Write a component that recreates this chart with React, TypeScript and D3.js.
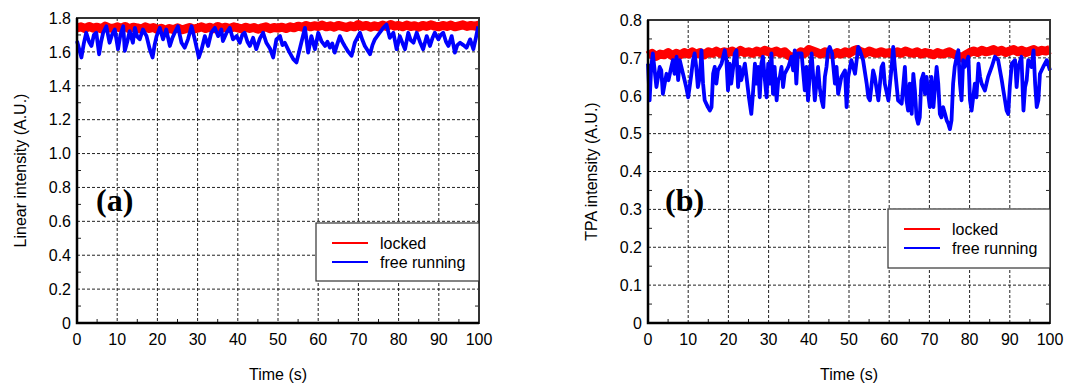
import { useRef, useEffect } from 'react'
import * as d3 from 'd3'

type Pt = [number, number]

const timeTicks = [0, 10, 20, 30, 40, 50, 60, 70, 80, 90, 100]
const linearTicks = [0, 0.2, 0.4, 0.6, 0.8, 1.0, 1.2, 1.4, 1.6, 1.8]
const tpaTicks = [0, 0.1, 0.2, 0.3, 0.4, 0.5, 0.6, 0.7, 0.8]
const legendLabels = ['locked', 'free running']

// locked, linear intensity, one reading per second (0..100 s)
const lockedLinear = [
  1.742, 1.748, 1.738, 1.750, 1.740, 1.746, 1.736, 1.752, 1.742, 1.738, 1.748,
  1.740, 1.750, 1.736, 1.746, 1.742, 1.734, 1.748, 1.738, 1.744, 1.732,
  1.740, 1.728, 1.738, 1.732, 1.742, 1.730, 1.736, 1.744, 1.734, 1.740,
  1.748, 1.738, 1.746, 1.736, 1.750, 1.740, 1.746, 1.738, 1.748, 1.742,
  1.736, 1.746, 1.738, 1.744, 1.734, 1.742, 1.748, 1.736, 1.744, 1.740,
  1.746, 1.738, 1.748, 1.742, 1.752, 1.746, 1.756, 1.748, 1.754, 1.750,
  1.758, 1.748, 1.754, 1.746, 1.756, 1.750, 1.744, 1.754, 1.748, 1.762,
  1.750, 1.756, 1.746, 1.754, 1.748, 1.758, 1.750, 1.762, 1.752, 1.756,
  1.748, 1.758, 1.750, 1.754, 1.746, 1.756, 1.750, 1.760, 1.752, 1.748,
  1.756, 1.750, 1.758, 1.748, 1.754, 1.760, 1.750, 1.756, 1.752, 1.758,
]

// free running, linear intensity [time s, value]
const freeLinear: Pt[] = [
  [0, 1.664], [1.1, 1.567], [1.7, 1.65], [2.3, 1.713], [3.0, 1.66], [3.6, 1.635], [4.2, 1.70],
  [4.8, 1.713], [5.5, 1.586], [6.0, 1.66], [6.5, 1.713], [7.3, 1.751], [8.1, 1.654], [8.7, 1.70],
  [9.4, 1.732], [10.2, 1.616], [10.8, 1.70], [11.5, 1.751], [11.9, 1.606], [12.5, 1.66], [13.1, 1.722],
  [13.9, 1.654], [14.4, 1.742], [15.0, 1.69], [15.6, 1.674], [16.4, 1.732], [17.3, 1.693], [18.1, 1.616],
  [18.8, 1.567], [19.3, 1.64], [19.8, 1.693], [20.6, 1.742], [21.4, 1.674], [22.2, 1.732], [23.1, 1.635],
  [23.7, 1.68], [24.3, 1.713], [25.1, 1.751], [26.0, 1.654], [26.8, 1.625], [27.6, 1.674], [28.5, 1.751],
  [29.3, 1.674], [30.3, 1.567], [31.0, 1.616], [31.8, 1.693], [32.6, 1.635], [33.4, 1.713], [34.3, 1.742],
  [35.1, 1.693], [35.9, 1.732], [36.3, 1.664], [37.2, 1.713], [38.0, 1.742], [38.8, 1.674], [39.7, 1.693],
  [40.5, 1.654], [41.1, 1.70], [41.7, 1.713], [42.4, 1.66], [43.0, 1.635], [43.8, 1.683], [44.6, 1.616],
  [45.5, 1.68], [46.3, 1.713], [47.1, 1.654], [48.0, 1.62], [48.8, 1.567], [49.6, 1.674], [50.5, 1.693],
  [51.1, 1.64], [51.7, 1.654], [52.8, 1.60], [53.8, 1.557], [54.6, 1.538], [55.4, 1.616], [56.3, 1.703],
  [56.7, 1.742], [57.5, 1.596], [58.3, 1.693], [59.2, 1.616], [60.0, 1.713], [60.8, 1.664], [61.7, 1.635],
  [62.3, 1.66], [62.9, 1.625], [63.5, 1.65], [64.1, 1.596], [64.8, 1.65], [65.4, 1.693], [66.0, 1.66],
  [66.6, 1.635], [67.5, 1.60], [68.3, 1.577], [69.1, 1.654], [70.4, 1.713], [71.0, 1.67], [71.6, 1.635],
  [72.9, 1.586], [73.5, 1.64], [74.1, 1.674], [75.2, 1.71], [76.2, 1.742], [77.0, 1.761], [77.8, 1.683],
  [78.7, 1.713], [79.5, 1.616], [80.3, 1.693], [81.0, 1.65], [81.6, 1.616], [82.4, 1.713], [83.0, 1.67],
  [83.7, 1.654], [84.5, 1.713], [85.3, 1.66], [86.1, 1.616], [87.0, 1.693], [87.8, 1.635], [88.4, 1.68],
  [89.0, 1.713], [89.9, 1.674], [90.5, 1.70], [91.1, 1.713], [91.8, 1.66], [92.4, 1.635], [93.2, 1.693],
  [94.0, 1.596], [94.6, 1.64], [95.3, 1.654], [96.1, 1.64], [96.9, 1.625], [97.8, 1.674], [98.6, 1.616],
  [99.2, 1.68], [99.8, 1.751],
]

// locked, TPA intensity, one reading per second (0..100 s)
const lockedTpa = [
  0.706, 0.712, 0.704, 0.710, 0.708, 0.714, 0.706, 0.712, 0.708, 0.714, 0.710,
  0.716, 0.710, 0.714, 0.708, 0.716, 0.712, 0.718, 0.712, 0.716, 0.714,
  0.718, 0.712, 0.720, 0.714, 0.716, 0.712, 0.718, 0.714, 0.720, 0.716,
  0.714, 0.718, 0.712, 0.716, 0.706, 0.700, 0.708, 0.716, 0.712, 0.722,
  0.718, 0.714, 0.710, 0.716, 0.712, 0.708, 0.714, 0.710, 0.716, 0.712,
  0.718, 0.722, 0.716, 0.712, 0.718, 0.714, 0.712, 0.716, 0.712, 0.714,
  0.710, 0.716, 0.712, 0.718, 0.714, 0.712, 0.716, 0.710, 0.714, 0.712,
  0.708, 0.714, 0.710, 0.712, 0.716, 0.710, 0.706, 0.700, 0.708, 0.714,
  0.718, 0.714, 0.720, 0.716, 0.718, 0.722, 0.716, 0.720, 0.714, 0.718,
  0.722, 0.716, 0.720, 0.714, 0.718, 0.722, 0.716, 0.720, 0.718, 0.722,
]

// free running, TPA intensity [time s, value]
const freeTpa: Pt[] = [
  [0, 0.685], [0.4, 0.588], [0.8, 0.676], [1.2, 0.712], [2.1, 0.623], [2.9, 0.676], [3.3, 0.667],
  [3.7, 0.605], [4.6, 0.658], [5.1, 0.641], [5.8, 0.676], [6.2, 0.694], [6.6, 0.658], [7.1, 0.703],
  [7.5, 0.641], [7.9, 0.694], [8.3, 0.676], [9.1, 0.641], [9.5, 0.623], [10.0, 0.596], [10.8, 0.658],
  [11.2, 0.694], [11.6, 0.712], [12.0, 0.676], [12.4, 0.623], [12.9, 0.650], [13.3, 0.720], [13.7, 0.632],
  [14.1, 0.588], [14.9, 0.570], [15.4, 0.561], [15.8, 0.570], [16.2, 0.658], [16.6, 0.676], [17.0, 0.632],
  [17.4, 0.667], [18.3, 0.685], [19.1, 0.720], [19.5, 0.694], [19.9, 0.614], [20.3, 0.685], [20.7, 0.632],
  [21.2, 0.676], [21.6, 0.712], [22.0, 0.720], [22.4, 0.623], [22.8, 0.676], [23.2, 0.641], [24.1, 0.685],
  [24.5, 0.650], [25.1, 0.596], [25.7, 0.552], [26.1, 0.605], [26.6, 0.685], [27.0, 0.632], [27.4, 0.676],
  [27.8, 0.596], [28.2, 0.685], [28.6, 0.703], [29.0, 0.650], [29.5, 0.596], [29.9, 0.685], [30.3, 0.632],
  [30.7, 0.712], [31.1, 0.605], [31.5, 0.676], [32.0, 0.588], [32.4, 0.641], [32.8, 0.650], [33.2, 0.676],
  [33.6, 0.623], [34.0, 0.658], [34.9, 0.676], [35.7, 0.703], [36.1, 0.667], [36.5, 0.720], [36.9, 0.632],
  [37.3, 0.712], [38.2, 0.712], [39.0, 0.614], [39.4, 0.676], [39.8, 0.588], [40.2, 0.650], [40.7, 0.712],
  [41.5, 0.588], [42.3, 0.676], [42.7, 0.623], [43.2, 0.588], [43.6, 0.570], [44.0, 0.650], [44.4, 0.676],
  [44.8, 0.720], [45.2, 0.729], [45.8, 0.712], [46.5, 0.632], [46.9, 0.676], [47.3, 0.605], [48.1, 0.650],
  [49.0, 0.667], [49.4, 0.570], [49.8, 0.650], [50.6, 0.694], [51.5, 0.658], [52.3, 0.729], [52.7, 0.720],
  [53.5, 0.694], [54.4, 0.632], [54.8, 0.596], [55.2, 0.588], [56.0, 0.667], [56.4, 0.650], [57.3, 0.588],
  [57.7, 0.632], [58.1, 0.676], [58.5, 0.685], [58.9, 0.632], [59.8, 0.588], [60.6, 0.676], [61.0, 0.729],
  [61.4, 0.676], [62.2, 0.588], [63.1, 0.579], [63.9, 0.676], [64.3, 0.588], [64.7, 0.561], [65.1, 0.632],
  [65.6, 0.552], [66.0, 0.658], [66.4, 0.614], [66.8, 0.543], [67.2, 0.526], [67.6, 0.543], [68.0, 0.641],
  [68.5, 0.658], [68.9, 0.605], [69.3, 0.650], [69.7, 0.605], [70.1, 0.570], [70.5, 0.650], [71.0, 0.570],
  [71.4, 0.623], [71.8, 0.676], [72.2, 0.632], [72.6, 0.552], [73.0, 0.543], [73.4, 0.570], [73.9, 0.552],
  [74.3, 0.535], [74.7, 0.526], [75.1, 0.512], [75.5, 0.535], [75.9, 0.632], [76.3, 0.676], [76.8, 0.703],
  [77.2, 0.720], [77.6, 0.632], [78.0, 0.588], [78.4, 0.694], [78.8, 0.676], [79.7, 0.703], [80.1, 0.588],
  [80.5, 0.561], [81.3, 0.632], [81.7, 0.596], [82.2, 0.685], [82.6, 0.650], [83.0, 0.632], [83.8, 0.614],
  [84.6, 0.650], [85.5, 0.676], [86.3, 0.703], [87.1, 0.694], [88.0, 0.641], [88.4, 0.614], [88.8, 0.588],
  [89.2, 0.561], [89.6, 0.552], [90.0, 0.623], [90.5, 0.685], [91.3, 0.694], [91.7, 0.623], [92.1, 0.676],
  [92.9, 0.703], [93.4, 0.561], [93.8, 0.623], [94.2, 0.641], [94.6, 0.694], [95.4, 0.676], [95.9, 0.720],
  [96.3, 0.632], [96.7, 0.570], [97.1, 0.588], [97.5, 0.658], [98.3, 0.676], [99.2, 0.694], [100, 0.667],
]

interface Panel {
  left: number
  right: number
  top: number
  bottom: number
  yTicks: number[]
  yMinor: number
  yLabel: string
  yLabelX: number
  tag: string
  tagX: number
  legend: { x: number; y: number; w: number; h: number }
  locked: number[]
  free: Pt[]
}

const FONT = '"Liberation Sans", Arial, sans-serif'

function drawPanel(svg: d3.Selection<SVGSVGElement, unknown, null, undefined>, p: Panel) {
  const x = d3.scaleLinear().domain([0, 100]).range([p.left, p.right])
  const yMax = p.yTicks[p.yTicks.length - 1]
  const y = d3.scaleLinear().domain([0, yMax]).range([p.bottom, p.top])
  const g = svg.append('g')

  // grid
  g.selectAll('.vgrid')
    .data(timeTicks.slice(1, -1))
    .join('line')
    .attr('x1', d => x(d)).attr('x2', d => x(d))
    .attr('y1', p.top).attr('y2', p.bottom)
    .attr('stroke', '#222').attr('stroke-width', 1).attr('stroke-dasharray', '3,2')
  g.selectAll('.hgrid')
    .data(p.yTicks.slice(1, -1))
    .join('line')
    .attr('x1', p.left).attr('x2', p.right)
    .attr('y1', d => y(d)).attr('y2', d => y(d))
    .attr('stroke', '#222').attr('stroke-width', 1).attr('stroke-dasharray', '3,2')

  // minor ticks
  const yMinorTicks = d3.range(p.yMinor, yMax, p.yMinor * 2)
  const xMinorTicks = d3.range(5, 100, 10)
  g.selectAll('.ymin')
    .data(yMinorTicks)
    .join('path')
    .attr('d', d => `M${p.left},${y(d)}h4M${p.right},${y(d)}h-4`)
    .attr('stroke', '#222').attr('stroke-width', 1)
  g.selectAll('.xmin')
    .data(xMinorTicks)
    .join('path')
    .attr('d', d => `M${x(d)},${p.bottom}v-4`)
    .attr('stroke', '#222').attr('stroke-width', 1)

  // data
  const lockedLine = d3.line<number>().x((_, i) => x(i)).y(d => y(d))
  g.append('path')
    .datum(p.locked)
    .attr('fill', 'none').attr('stroke', '#ff0000').attr('stroke-width', 9)
    .attr('stroke-linejoin', 'round')
    .attr('d', lockedLine)
  const freeLine = d3.line<Pt>().x(d => x(d[0])).y(d => y(d[1]))
  g.append('path')
    .datum(p.free)
    .attr('fill', 'none').attr('stroke', '#0000ff').attr('stroke-width', 3.8)
    .attr('stroke-linejoin', 'round')
    .attr('d', freeLine)

  // frame
  g.append('rect')
    .attr('x', p.left).attr('y', p.top)
    .attr('width', p.right - p.left).attr('height', p.bottom - p.top)
    .attr('fill', 'none').attr('stroke', '#333').attr('stroke-width', 2)
  g.append('path')
    .attr('d', `M${p.left},${p.top}V${p.bottom}H${p.right}`)
    .attr('fill', 'none').attr('stroke', '#000').attr('stroke-width', 2.5)

  // tick labels
  const fmt = (d: number) => (d === 0 ? '0' : d3.format('.1f')(d))
  g.selectAll('.ylab')
    .data(p.yTicks)
    .join('text')
    .attr('x', p.left - 6).attr('y', d => y(d))
    .attr('dy', '0.36em')
    .attr('text-anchor', 'end')
    .style('font-family', FONT).style('font-size', '16px')
    .text(fmt)
  g.selectAll('.xlab')
    .data(timeTicks)
    .join('text')
    .attr('x', d => x(d)).attr('y', p.bottom + 22)
    .attr('text-anchor', 'middle')
    .style('font-family', FONT).style('font-size', '16px')
    .text(d => String(d))

  // axis titles
  g.append('text')
    .attr('x', (p.left + p.right) / 2).attr('y', 380)
    .attr('text-anchor', 'middle')
    .style('font-family', FONT).style('font-size', '16px')
    .text('Time (s)')
  g.append('text')
    .attr('transform', `translate(${p.yLabelX},${(p.top + p.bottom) / 2}) rotate(-90)`)
    .attr('text-anchor', 'middle')
    .attr('dy', '0.36em')
    .style('font-family', FONT).style('font-size', '16px')
    .text(p.yLabel)

  // panel tag
  g.append('text')
    .attr('x', p.tagX).attr('y', 211)
    .style('font-family', '"Liberation Serif", "Times New Roman", serif')
    .style('font-size', '32px').style('font-weight', 'bold')
    .text(p.tag)

  // legend
  const L = p.legend
  const lg = g.append('g')
  lg.append('rect')
    .attr('x', L.x).attr('y', L.y).attr('width', L.w).attr('height', L.h)
    .attr('fill', '#fff').attr('stroke', '#333').attr('stroke-width', 1.2)
  const colors = ['#ff0000', '#0000ff']
  legendLabels.forEach((label, i) => {
    const cy = L.y + 20 + i * 19
    lg.append('line')
      .attr('x1', L.x + 16).attr('x2', L.x + 52)
      .attr('y1', cy).attr('y2', cy)
      .attr('stroke', colors[i]).attr('stroke-width', 2)
    lg.append('text')
      .attr('x', L.x + 64).attr('y', cy)
      .attr('dy', '0.36em')
      .style('font-family', FONT).style('font-size', '16px')
      .text(label)
  })
}

export default function App() {
  const svgRef = useRef<SVGSVGElement>(null)

  useEffect(() => {
    if (!svgRef.current) return
    const svg = d3.select(svgRef.current)
    svg.selectAll('*').remove()

    drawPanel(svg, {
      left: 77, right: 479, top: 18, bottom: 323,
      yTicks: linearTicks, yMinor: 0.1,
      yLabel: 'Linear intensity (A.U.)', yLabelX: 20,
      tag: '(a)', tagX: 96,
      legend: { x: 316, y: 223, w: 163, h: 58 },
      locked: lockedLinear, free: freeLinear,
    })
    drawPanel(svg, {
      left: 648, right: 1050, top: 20, bottom: 323,
      yTicks: tpaTicks, yMinor: 0.05,
      yLabel: 'TPA intensity (A.U.)', yLabelX: 591,
      tag: '(b)', tagX: 665,
      legend: { x: 888, y: 209, w: 162, h: 59 },
      locked: lockedTpa, free: freeTpa,
    })
  }, [])

  return (
    <div style={{ position: 'fixed', left: 0, top: 0, background: '#fff' }}>
      <svg ref={svgRef} width={1090} height={387} style={{ display: 'block' }} />
    </div>
  )
}
